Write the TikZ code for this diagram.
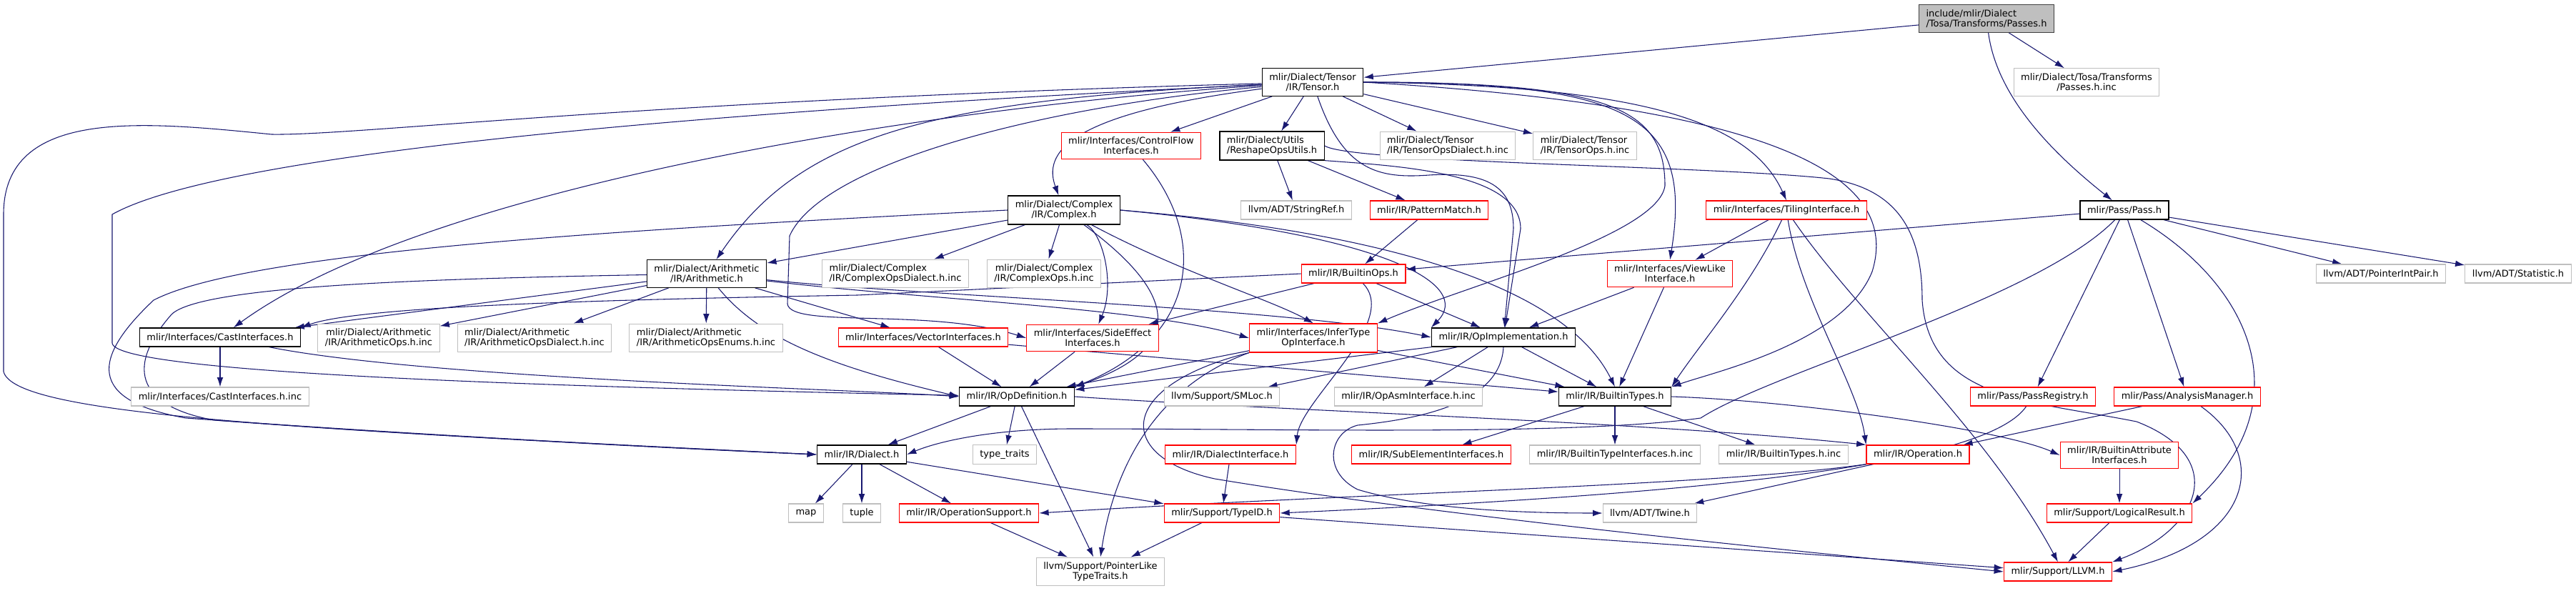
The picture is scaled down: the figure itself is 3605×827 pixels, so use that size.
\documentclass[tikz,border=0pt]{standalone}
\usepackage{fontspec}
\setmainfont{DejaVu Sans}
\usetikzlibrary{arrows.meta,backgrounds}
\definecolor{edgeblue}{HTML}{191970}
\definecolor{nodegray}{HTML}{BFBFBF}
\begin{document}
\begin{tikzpicture}[x=0.75pt,y=-0.75pt,font=\fontsize{9.75}{10.5}\selectfont,
	box/.style={draw,rectangle,inner xsep=7.5pt,inner ysep=5pt,minimum height=19.5pt,align=center,fill=white},
	doc/.style={box,draw=black,line width=1pt},
	more/.style={box,draw=red,line width=0.9pt},
	undoc/.style={box,draw=nodegray,line width=0.8pt},
	lft/.style={align=left},
	edge/.style={draw=edgeblue,line width=0.8pt,-{Latex[length=10pt,width=6.5pt]}}]
	\useasboundingbox (0,0) rectangle (3605,827);
	\node[undoc,lft,fill=nodegray,draw=black!75] (root) at (2780,26) {include/mlir/Dialect\\/Tosa/Transforms/Passes.h};
	\node[doc] (tensor) at (1837,115) {mlir/Dialect/Tensor\\/IR/Tensor.h};
	\node[undoc] (passinc) at (2920,115) {mlir/Dialect/Tosa/Transforms\\/Passes.h.inc};
	\node[more] (cflow) at (1583,204) {mlir/Interfaces/ControlFlow\\Interfaces.h};
	\node[doc,lft] (reshape) at (1780,204) {mlir/Dialect/Utils\\/ReshapeOpsUtils.h};
	\node[undoc,lft] (tdialinc) at (2026,204) {mlir/Dialect/Tensor\\/IR/TensorOpsDialect.h.inc};
	\node[undoc,lft] (topsinc) at (2218,204) {mlir/Dialect/Tensor\\/IR/TensorOps.h.inc};
	\node[doc] (complex) at (1489,294) {mlir/Dialect/Complex\\/IR/Complex.h};
	\node[undoc] (strref) at (1814,294) {llvm/ADT/StringRef.h};
	\node[more] (pmatch) at (2000,294) {mlir/IR/PatternMatch.h};
	\node[more] (tiling) at (2500,294) {mlir/Interfaces/TilingInterface.h};
	\node[doc] (pass) at (2973,294) {mlir/Pass/Pass.h};
	\node[doc] (arith) at (989,383) {mlir/Dialect/Arithmetic\\/IR/Arithmetic.h};
	\node[undoc,lft] (cdialinc) at (1253,383) {mlir/Dialect/Complex\\/IR/ComplexOpsDialect.h.inc};
	\node[undoc] (copsinc) at (1461,383) {mlir/Dialect/Complex\\/IR/ComplexOps.h.inc};
	\node[more] (bops) at (1894,383) {mlir/IR/BuiltinOps.h};
	\node[more] (viewlike) at (2337,383) {mlir/Interfaces/ViewLike\\Interface.h};
	\node[undoc] (ptrint) at (3332,383) {llvm/ADT/PointerIntPair.h};
	\node[undoc] (stat) at (3524,383) {llvm/ADT/Statistic.h};
	\node[doc] (castif) at (308,472) {mlir/Interfaces/CastInterfaces.h};
	\node[undoc] (aopsinc) at (530,473) {mlir/Dialect/Arithmetic\\/IR/ArithmeticOps.h.inc};
	\node[undoc,lft] (adialinc) at (748,473) {mlir/Dialect/Arithmetic\\/IR/ArithmeticOpsDialect.h.inc};
	\node[undoc,lft] (aenumsinc) at (988,473) {mlir/Dialect/Arithmetic\\/IR/ArithmeticOpsEnums.h.inc};
	\node[more] (vecif) at (1292,472) {mlir/Interfaces/VectorInterfaces.h};
	\node[more] (sideeff) at (1529,473) {mlir/Interfaces/SideEffect\\Interfaces.h};
	\node[more] (infer) at (1838,473) {mlir/Interfaces/InferType\\OpInterface.h};
	\node[doc] (opimpl) at (2104,472) {mlir/IR/OpImplementation.h};
	\node[undoc] (castinc) at (308,555) {mlir/Interfaces/CastInterfaces.h.inc};
	\node[doc] (opdef) at (1423,555) {mlir/IR/OpDefinition.h};
	\node[undoc] (smloc) at (1710,555) {llvm/Support/SMLoc.h};
	\node[undoc] (asminc) at (1971,555) {mlir/IR/OpAsmInterface.h.inc};
	\node[doc] (btypes) at (2260,555) {mlir/IR/BuiltinTypes.h};
	\node[more] (preg) at (2845,555) {mlir/Pass/PassRegistry.h};
	\node[more] (aman) at (3061,555) {mlir/Pass/AnalysisManager.h};
	\node[doc] (dialect) at (1206,636) {mlir/IR/Dialect.h};
	\node[undoc] (ttraits) at (1406,636) {type\_traits};
	\node[more] (dialif) at (1722,636) {mlir/IR/DialectInterface.h};
	\node[more] (subel) at (2003,636) {mlir/IR/SubElementInterfaces.h};
	\node[undoc] (btiinc) at (2260,636) {mlir/IR/BuiltinTypeInterfaces.h.inc};
	\node[undoc] (btinc) at (2496,636) {mlir/IR/BuiltinTypes.h.inc};
	\node[more] (operation) at (2684,636) {mlir/IR/Operation.h};
	\node[more] (battr) at (2966,637) {mlir/IR/BuiltinAttribute\\Interfaces.h};
	\node[undoc] (map) at (1128,718) {map};
	\node[undoc] (tuple) at (1206,718) {tuple};
	\node[more] (opsup) at (1356,718) {mlir/IR/OperationSupport.h};
	\node[more] (typeid) at (1710,718) {mlir/Support/TypeID.h};
	\node[undoc] (twine) at (2309,718) {llvm/ADT/Twine.h};
	\node[more] (logres) at (2966,718) {mlir/Support/LogicalResult.h};
	\node[undoc] (ptrlike) at (1540,800) {llvm/Support/PointerLike\\TypeTraits.h};
	\node[more] (llvmh) at (2880,800) {mlir/Support/LLVM.h};
	\begin{scope}[on background layer]
		\fill[white] (0,0) rectangle (3605,827);
		\draw[edge] (root) -- (tensor);
		\draw[edge] (root) -- (passinc);
		\draw[edge] (root) .. controls (2795,140) and (2880,220) .. (pass);
		\draw[edge] (tensor) -- (cflow);
		\draw[edge] (tensor) -- (reshape);
		\draw[edge] (tensor) -- (tdialinc);
		\draw[edge] (tensor) -- (topsinc);
		\draw[edge] (tensor) .. controls (1490,160) and (1460,215) .. (complex);
		\draw[edge] (tensor) .. controls (1300,140) and (1120,190) .. (arith);
		\draw[edge] (tensor) .. controls (1300,150) and (600,260) .. (castif);
		\draw[edge] (tensor) .. controls (900,160) and (300,220) .. (157,300) -- (157,480) .. controls (160,520) and (700,540) .. (opdef);
		\draw[edge] (tensor) .. controls (900,140) and (500,190) .. (380,188) .. controls (200,170) and (5,150) .. (5,300) -- (5,520) .. controls (20,580) and (400,600) .. (dialect.west);
		\draw[edge] (tensor) .. controls (1450,150) and (1150,230) .. (1105,330) -- (1102,425) .. controls (1105,460) and (1300,430) .. (sideeff.west);
		\draw[edge] (tensor) .. controls (1880,240) and (1930,250) .. (2000,245) .. controls (2080,240) and (2118,260) .. (2118,320) -- (opimpl);
		\draw[edge] (tensor.east) .. controls (2250,115) and (2330,150) .. (2330,260) .. controls (2320,330) and (2050,400) .. (infer.north east);
		\draw[edge] (tensor.east) .. controls (2280,115) and (2370,160) .. (viewlike.north);
		\draw[edge] (tensor.east) .. controls (2300,120) and (2450,170) .. (tiling.north);
		\draw[edge] (tensor.east) .. controls (2500,150) and (2660,250) .. (2620,380) .. controls (2580,480) and (2400,520) .. (btypes.north east);
		\draw[edge] (reshape) -- (strref);
		\draw[edge] (reshape) -- (pmatch);
		\draw[edge] (reshape.south east) .. controls (1950,232) and (2128,240) .. (2128,320) -- (opimpl);
		\draw[edge] (reshape.east) .. controls (1890,228) and (2400,232) .. (2560,250) .. controls (2660,265) and (2690,330) .. (2690,420) .. controls (2700,560) and (2840,560) .. (2990,590) .. controls (3120,640) and (3080,740) .. (llvmh.north east);
		\draw[edge] (pmatch) -- (bops);
		\draw[edge] (cflow) .. controls (1690,330) and (1680,470) .. (opdef.north east);
		\draw[edge] (complex) -- (cdialinc);
		\draw[edge] (complex) -- (copsinc);
		\draw[edge] (complex) -- (arith);
		\draw[edge] (complex.west) .. controls (900,320) and (350,350) .. (215,420) .. controls (130,500) and (120,560) .. (260,585) .. controls (600,610) and (1000,630) .. (dialect.west);
		\draw[edge] (complex) .. controls (1545,330) and (1560,400) .. (sideeff);
		\draw[edge] (complex) .. controls (1650,380) and (1780,420) .. (infer.north);
		\draw[edge] (complex) .. controls (1660,420) and (1650,490) .. (opdef.north east);
		\draw[edge] (complex.east) .. controls (1950,330) and (2060,400) .. (opimpl.north west);
		\draw[edge] (complex.east) .. controls (2000,330) and (2200,420) .. (btypes.north);
		\draw[edge] (arith) -- (castif);
		\draw[edge] (arith) -- (aopsinc);
		\draw[edge] (arith) -- (adialinc);
		\draw[edge] (arith) -- (aenumsinc);
		\draw[edge] (arith) -- (vecif);
		\draw[edge] (arith) .. controls (1300,420) and (1600,430) .. (infer.west);
		\draw[edge] (arith) .. controls (1300,415) and (1800,430) .. (opimpl.west);
		\draw[edge] (arith) .. controls (1060,470) and (1150,510) .. (opdef.west);
		\draw[edge] (arith) .. controls (600,390) and (280,400) .. (240,440) .. controls (170,520) and (200,570) .. (300,588) .. controls (620,612) and (1000,630) .. (dialect.west);
		\draw[edge] (bops.west) -- (1200,413) .. controls (800,420) and (500,430) .. (castif.north east);
		\draw[edge] (bops) -- (sideeff);
		\draw[edge] (bops) -- (opimpl);
		\draw[edge] (bops) .. controls (1960,450) and (1820,560) .. (dialif.north east);
		\draw[edge] (vecif) -- (opdef);
		\draw[edge] (vecif) -- (btypes);
		\draw[edge] (sideeff) -- (opdef);
		\draw[edge] (infer) -- (opdef);
		\draw[edge] (infer) -- (btypes);
		\draw[edge] (infer.south west) .. controls (1620,540) and (1560,650) .. (ptrlike.north);
		\draw[edge] (infer.south west) .. controls (1560,540) and (1560,640) .. (1700,670) .. controls (2000,720) and (2500,770) .. (llvmh.west);
		\draw[edge] (opimpl.south west) -- (opdef);
		\draw[edge] (opimpl) -- (smloc);
		\draw[edge] (opimpl) -- (asminc);
		\draw[edge] (opimpl) -- (btypes);
		\draw[edge] (opimpl.south) .. controls (2100,560) and (2000,585) .. (1900,595) .. controls (1860,605) and (1850,660) .. (1900,685) .. controls (2000,715) and (2150,718) .. (twine.west);
		\draw[edge] (viewlike) -- (opimpl);
		\draw[edge] (viewlike) -- (btypes);
		\draw[edge] (tiling) -- (viewlike);
		\draw[edge] (tiling) .. controls (2450,400) and (2380,480) .. (btypes.north east);
		\draw[edge] (tiling) .. controls (2520,420) and (2600,540) .. (operation.north west);
		\draw[edge] (tiling) .. controls (2600,440) and (2780,600) .. (llvmh.north);
		\draw[edge] (btypes) -- (subel);
		\draw[edge] (btypes) -- (btiinc);
		\draw[edge] (btypes) -- (btinc);
		\draw[edge] (btypes.east) .. controls (2500,560) and (2800,600) .. (battr.west);
		\draw[edge] (castif) -- (castinc);
		\draw[edge] (castif) .. controls (600,530) and (1200,545) .. (opdef.west);
		\draw[edge] (opdef) -- (dialect);
		\draw[edge] (opdef) -- (ttraits);
		\draw[edge] (opdef) -- (ptrlike);
		\draw[edge] (opdef.east) .. controls (1800,575) and (2300,590) .. (operation.north west);
		\draw[edge] (dialect) -- (map);
		\draw[edge] (dialect) -- (tuple);
		\draw[edge] (dialect) -- (opsup);
		\draw[edge] (dialect) -- (typeid);
		\draw[edge] (dialif) -- (typeid);
		\draw[edge] (opsup) -- (ptrlike);
		\draw[edge] (typeid) -- (ptrlike);
		\draw[edge] (typeid) -- (llvmh);
		\draw[edge] (operation.south west) .. controls (2400,680) and (1900,690) .. (opsup.east);
		\draw[edge] (operation) -- (twine);
		\draw[edge] (preg) .. controls (2780,650) and (2400,690) .. (typeid.east);
		\draw[edge] (aman) -- (operation);
		\draw[edge] (aman) .. controls (3180,640) and (3150,760) .. (llvmh.east);
		\draw[edge] (battr) -- (logres);
		\draw[edge] (logres) -- (llvmh);
		\draw[edge] (pass) -- (bops);
		\draw[edge] (pass) .. controls (2850,420) and (2480,520) .. (2380,585) .. controls (2200,610) and (1800,600) .. (1500,600) .. controls (1400,600) and (1320,615) .. (dialect.east);
		\draw[edge] (pass) -- (preg);
		\draw[edge] (pass) -- (aman);
		\draw[edge] (pass) .. controls (3150,400) and (3220,560) .. (logres.north east);
		\draw[edge] (pass) -- (ptrint);
		\draw[edge] (pass) -- (stat);
	\end{scope}
\end{tikzpicture}
\end{document}
